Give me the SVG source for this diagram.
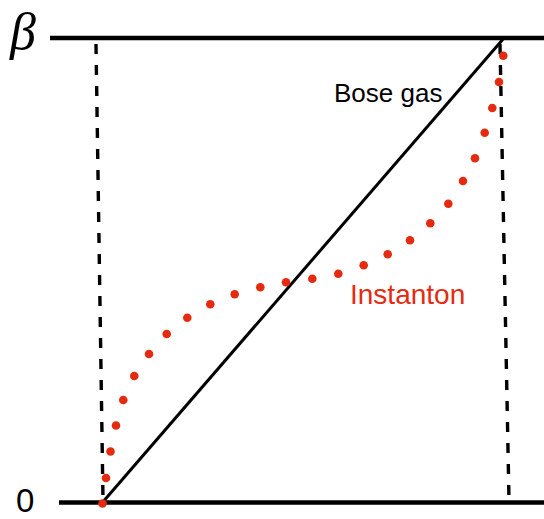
<svg xmlns="http://www.w3.org/2000/svg" width="544" height="519" viewBox="0 0 544 519">
<style>
.axis{stroke:#000;stroke-width:4.5;fill:none}
.dash{stroke:#000;stroke-width:3.4;stroke-dasharray:10 11;fill:none}
.diag{stroke:#000;stroke-width:3;fill:none}
.dot{fill:#e42b0f}
.lbl{font-family:"Liberation Sans",Arial,sans-serif}
</style>
<rect width="544" height="519" fill="#fff"/>
<g id="connectors">
<line class="axis" x1="50" y1="38" x2="544" y2="38"/>
<line class="axis" x1="59" y1="502.5" x2="544" y2="502.5"/>
<line class="dash" x1="96" y1="44" x2="103" y2="500"/>
<line class="dash" x1="500" y1="44" x2="509" y2="500"/>
<line class="diag" x1="102" y1="503" x2="504" y2="38"/>
</g>
<g id="instanton-path">
<circle class="dot" cx="102.5" cy="503.5" r="4.3"/>
<circle class="dot" cx="106" cy="478" r="4.3"/>
<circle class="dot" cx="110.5" cy="451.5" r="4.3"/>
<circle class="dot" cx="116" cy="425.5" r="4.3"/>
<circle class="dot" cx="123.3" cy="400" r="4.3"/>
<circle class="dot" cx="134.3" cy="376" r="4.3"/>
<circle class="dot" cx="149" cy="354" r="4.3"/>
<circle class="dot" cx="166.7" cy="334" r="4.3"/>
<circle class="dot" cx="187.3" cy="317.7" r="4.3"/>
<circle class="dot" cx="210.3" cy="304.3" r="4.3"/>
<circle class="dot" cx="234.7" cy="294.3" r="4.3"/>
<circle class="dot" cx="260.3" cy="287.3" r="4.3"/>
<circle class="dot" cx="286" cy="282.3" r="4.3"/>
<circle class="dot" cx="312.3" cy="278.7" r="4.3"/>
<circle class="dot" cx="338.3" cy="273.7" r="4.3"/>
<circle class="dot" cx="363.7" cy="265.3" r="4.3"/>
<circle class="dot" cx="387.7" cy="254.3" r="4.3"/>
<circle class="dot" cx="410" cy="240.3" r="4.3"/>
<circle class="dot" cx="430.3" cy="223.3" r="4.3"/>
<circle class="dot" cx="448.3" cy="203.7" r="4.3"/>
<circle class="dot" cx="463" cy="181" r="4.3"/>
<circle class="dot" cx="475" cy="158.3" r="4.3"/>
<circle class="dot" cx="484.7" cy="132.7" r="4.3"/>
<circle class="dot" cx="492.3" cy="108" r="4.3"/>
<circle class="dot" cx="499" cy="82" r="4.3"/>
<circle class="dot" cx="503.3" cy="55.7" r="4.3"/>
</g>
<g id="label-beta"><text x="10" y="49" font-family="'Liberation Serif','Times New Roman',serif" font-style="italic" font-size="52">β</text></g>
<g id="label-zero"><text class="lbl" x="16" y="512" font-size="33">0</text></g>
<g id="label-bose"><text class="lbl" x="334" y="102" font-size="26">Bose gas</text></g>
<g id="label-instanton"><text class="lbl" x="350" y="304.3" font-size="28" fill="#e42b0f">Instanton</text></g>
</svg>
